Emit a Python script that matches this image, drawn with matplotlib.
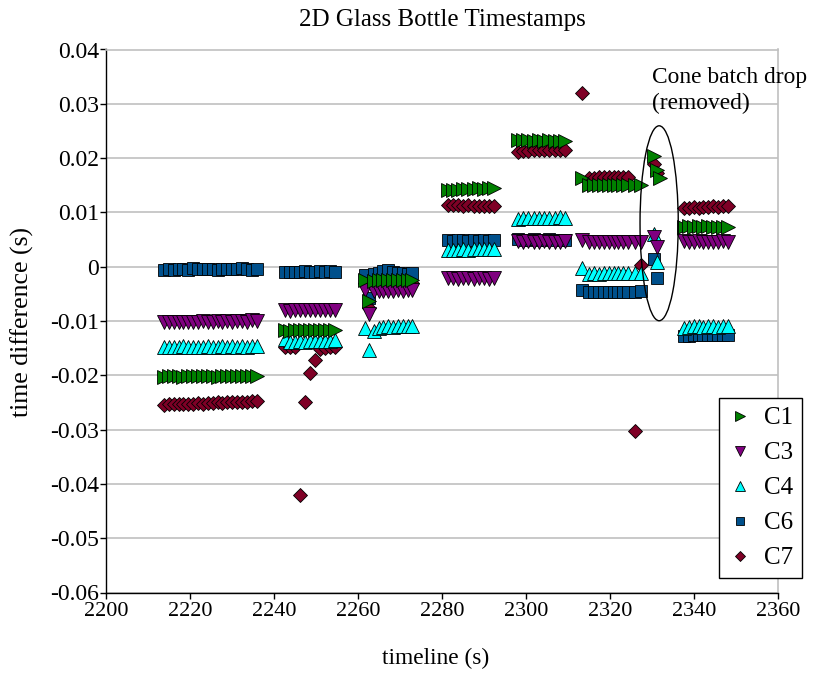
import numpy as np
import matplotlib
matplotlib.use("Agg")
import matplotlib.pyplot as plt
from matplotlib.lines import Line2D
from matplotlib.patches import Ellipse

plt.rcParams['font.family'] = ['Liberation Serif', 'DejaVu Serif']
plt.rcParams['axes.unicode_minus'] = False

nan = np.nan

# Frame timestamps for each batch (s)
batch1_t = [2213.8, 2215.0, 2216.1, 2217.3, 2218.4, 2219.6, 2220.8, 2221.9, 2223.1, 2224.3,
            2225.4, 2226.6, 2227.7, 2228.9, 2230.1, 2231.2, 2232.4, 2233.5, 2234.7, 2235.9]
batch2_t = [2242.6, 2243.8, 2245.0, 2246.2, 2247.4, 2248.6, 2249.8, 2251.0, 2252.2, 2253.4, 2254.6]
batch3_t = [2261.7, 2262.6, 2263.8, 2264.9, 2266.0, 2267.2, 2268.3, 2269.5, 2270.6, 2271.8, 2272.9]
batch4_t = [2281.4, 2282.6, 2283.8, 2285.0, 2286.3, 2287.5, 2288.7, 2289.9, 2291.1, 2292.3]
batch5_t = [2298.0, 2299.3, 2300.5, 2301.8, 2303.0, 2304.3, 2305.5, 2306.8, 2308.0, 2309.3]
batch6_t = [2313.3, 2315.0, 2316.2, 2317.4, 2318.5, 2319.7, 2320.9, 2322.0, 2323.2, 2324.4, 2326.0, 2327.3]
cone_t = [2330.4, 2331.2, 2331.9]
batch7_t = [2337.6, 2338.8, 2339.9, 2341.1, 2342.2, 2343.4, 2344.5, 2345.7, 2346.8, 2348.0]

frame_times = batch1_t + batch2_t + batch3_t + batch4_t + batch5_t + batch6_t + cone_t + batch7_t

# Time difference per camera (s), aligned with frame_times
c1 = ([-0.0203, -0.0202, -0.0201, -0.0202, -0.0203, -0.0202, -0.0201, -0.0202, -0.0202, -0.0201,
       -0.0202, -0.0203, -0.0202, -0.0201, -0.0201, -0.0202, -0.0201, -0.0202, -0.0201, -0.0201]
      + [-0.0117, -0.0118, -0.0117, -0.0116, -0.0117, -0.0117, -0.0116, -0.0117, -0.0116, -0.0117, -0.0116]
      + [-0.0024, -0.0064, -0.0026, -0.0025, -0.0025, -0.0024, -0.0025, -0.0024, -0.0024, -0.0025, -0.0024]
      + [0.0141, 0.0142, 0.0142, 0.0143, 0.0144, 0.0144, 0.0145, 0.0144, 0.0145, 0.0145]
      + [0.0234, 0.0233, 0.0233, 0.0232, 0.0233, 0.0232, 0.0233, 0.0232, 0.0232, 0.0232]
      + [0.0163, 0.0150, 0.0150, 0.0151, 0.0150, 0.0151, 0.0151, 0.0150, 0.0151, 0.0150, 0.0151, 0.0150]
      + [0.0203, 0.0178, 0.0163]
      + [0.0074, 0.0075, 0.0074, 0.0075, 0.0074, 0.0075, 0.0074, 0.0074, 0.0074, 0.0073])

c3 = ([-0.0102, -0.0101, -0.0102, -0.0101, -0.0101, -0.0102, -0.0101, -0.0101, -0.0100, -0.0101,
       -0.0101, -0.0100, -0.0101, -0.0100, -0.0101, -0.0100, -0.0100, -0.0101, -0.0099, -0.0100]
      + [-0.0080, -0.0081, -0.0080, -0.0080, -0.0079, -0.0080, -0.0080, -0.0079, -0.0080, -0.0079, -0.0079]
      + [-0.0042, -0.0088, -0.0045, -0.0044, -0.0045, -0.0044, -0.0044, -0.0043, -0.0044, -0.0043, -0.0043]
      + [-0.0021, -0.0021, -0.0022, -0.0021, -0.0021, -0.0022, -0.0021, -0.0021, -0.0022, -0.0021]
      + [0.0047, 0.0046, 0.0047, 0.0046, 0.0046, 0.0047, 0.0046, 0.0046, 0.0046, 0.0047]
      + [0.0050, 0.0046, 0.0046, 0.0045, 0.0046, 0.0046, 0.0045, 0.0046, 0.0045, 0.0046, 0.0045, 0.0046]
      + [0.0055, 0.0037, nan]
      + [0.0047, 0.0046, 0.0046, 0.0047, 0.0046, 0.0046, 0.0046, 0.0046, 0.0047, 0.0046])

c4 = ([-0.0148, -0.0147, -0.0148, -0.0147, -0.0146, -0.0147, -0.0147, -0.0148, -0.0147, -0.0146,
       -0.0147, -0.0147, -0.0146, -0.0147, -0.0146, -0.0147, -0.0146, -0.0147, -0.0146, -0.0146]
      + [-0.0134, -0.0138, -0.0138, -0.0137, -0.0138, -0.0137, -0.0137, -0.0136, -0.0137, -0.0136, -0.0135]
      + [-0.0113, -0.0153, -0.0119, -0.0112, -0.0111, -0.0110, -0.0111, -0.0110, -0.0110, -0.0109, -0.0110]
      + [0.0030, 0.0031, 0.0030, 0.0032, 0.0031, 0.0032, 0.0032, 0.0033, 0.0032, 0.0033]
      + [0.0088, 0.0089, 0.0089, 0.0090, 0.0089, 0.0090, 0.0090, 0.0090, 0.0091, 0.0090]
      + [-0.0003, -0.0013, -0.0012, -0.0013, -0.0012, -0.0012, -0.0011, -0.0012, -0.0012, -0.0011, -0.0012, -0.0012]
      + [0.0061, 0.0009, nan]
      + [-0.0112, -0.0111, -0.0110, -0.0110, -0.0111, -0.0110, -0.0110, -0.0111, -0.0110, -0.0109])

c6 = ([-0.0006, -0.0005, -0.0006, -0.0005, -0.0004, -0.0006, -0.0003, -0.0005, -0.0004, -0.0005,
       -0.0004, -0.0006, -0.0005, -0.0005, -0.0004, -0.0005, -0.0003, -0.0004, -0.0006, -0.0005]
      + [-0.0010, -0.0009, -0.0010, -0.0009, -0.0008, -0.0009, -0.0009, -0.0008, -0.0009, -0.0008, -0.0009]
      + [-0.0015, -0.0058, -0.0013, -0.0011, -0.0008, -0.0006, -0.0010, -0.0012, -0.0011, -0.0013, -0.0012]
      + [0.0049, 0.0048, 0.0049, 0.0049, 0.0048, 0.0049, 0.0048, 0.0049, 0.0048, 0.0049]
      + [0.0051, 0.0050, 0.0050, 0.0051, 0.0050, 0.0050, 0.0051, 0.0050, 0.0050, 0.0050]
      + [-0.0042, -0.0046, -0.0047, -0.0046, -0.0046, -0.0047, -0.0046, -0.0046, -0.0047, -0.0046, -0.0046, -0.0044]
      + [0.0015, -0.0021, nan]
      + [-0.0127, -0.0127, -0.0126, -0.0126, -0.0125, -0.0126, -0.0126, -0.0125, -0.0126, -0.0126])

c7 = ([-0.0254, -0.0253, -0.0253, -0.0252, -0.0252, -0.0253, -0.0252, -0.0251, -0.0252, -0.0251,
       -0.0251, -0.0250, -0.0251, -0.0250, -0.0250, -0.0249, -0.0249, -0.0249, -0.0248, -0.0248]
      + [-0.0147, -0.0147, -0.0148, -0.0420, -0.0250, -0.0196, -0.0172, -0.0151, -0.0149, -0.0148, -0.0147]
      + [-0.0030, -0.0076, -0.0031, -0.0032, -0.0031, -0.0032, -0.0031, -0.0031, -0.0030, -0.0031, -0.0030]
      + [0.0114, 0.0113, 0.0113, 0.0112, 0.0113, 0.0112, 0.0112, 0.0111, 0.0112, 0.0111]
      + [0.0212, 0.0213, 0.0213, 0.0214, 0.0214, 0.0215, 0.0214, 0.0215, 0.0215, 0.0214]
      + [0.0319, 0.0163, 0.0164, 0.0165, 0.0165, 0.0166, 0.0165, 0.0166, 0.0165, 0.0165, -0.0303, 0.0003]
      + [0.0190, 0.0172, nan]
      + [0.0109, 0.0109, 0.0110, 0.0109, 0.0110, 0.0110, 0.0111, 0.0110, 0.0111, 0.0112])

series_names = ['C1', 'C3', 'C4', 'C6', 'C7']
series_values = [c1, c3, c4, c6, c7]
series_markers = ['>', 'v', '^', 's', 'D']
series_sizes = [10.5, 10.5, 10.5, 9.0, 7.5]
series_colors = ['#008000', '#800080', '#00FFFF', '#00508C', '#7F0026']

x_ticks = [2200, 2220, 2240, 2260, 2280, 2300, 2320, 2340, 2360]
y_ticks = [0.04, 0.03, 0.02, 0.01, 0.0, -0.01, -0.02, -0.03, -0.04, -0.05, -0.06]
y_tick_labels = ['0.04', '0.03', '0.02', '0.01', '0', '-0.01', '-0.02', '-0.03', '-0.04', '-0.05', '-0.06']

W, H = 816, 675
fig = plt.figure(figsize=(W / 100, H / 100), dpi=100)
ax = fig.add_axes([106 / W, 1 - 592.5 / H, (778 - 106) / W, (592.5 - 49.5) / H])

times = np.array(frame_times)
# later cameras are drawn underneath earlier ones
for i, (name, vals, mk, ms, col) in enumerate(zip(series_names, series_values, series_markers,
                                                   series_sizes, series_colors)):
    ax.plot(times, np.array(vals), linestyle='none', marker=mk, markersize=ms,
            markerfacecolor=col, markeredgecolor='black', markeredgewidth=0.6,
            zorder=10 - i)

ax.set_xlim(2200, 2360)
ax.set_ylim(-0.06, 0.04)
ax.set_xticks(x_ticks)
ax.set_xticklabels([str(v) for v in x_ticks])
ax.set_yticks(y_ticks)
ax.set_yticklabels(y_tick_labels)
ax.tick_params(axis='both', direction='out', length=4, width=1, color='black', labelsize=16)
ax.tick_params(axis='y', pad=1, labelsize=17)
ax.tick_params(axis='x', pad=3)
ax.yaxis.grid(True, color='#C0C0C0', linewidth=1.2)
ax.set_axisbelow(True)
for side in ('left', 'bottom'):
    ax.spines[side].set_color('black')
    ax.spines[side].set_linewidth(1.0)
for side in ('top', 'right'):
    ax.spines[side].set_color('#C0C0C0')
    ax.spines[side].set_linewidth(1.2)

# circled group that was left out
ax.add_patch(Ellipse((2331.7, 0.0080), 9.1, 0.0359, fill=False, edgecolor='black',
                     linewidth=1.0, zorder=20))
ax.text(2330.0, 0.0368, 'Cone batch drop\n(removed)', ha='left', va='top', fontsize=16.8,
        linespacing=1.3, clip_on=False, zorder=21)

fig.text(442 / W, 1 - 20 / H, '2D Glass Bottle Timestamps', ha='center', va='center', fontsize=18)
fig.text(436 / W, 1 - 658 / H, 'timeline (s)', ha='center', va='center', fontsize=16.8)
fig.text(22 / W, 1 - 322 / H, 'time difference (s)', ha='center', va='center',
         rotation=90, fontsize=18.5)

handles = [Line2D([], [], linestyle='none', marker=mk, markersize=ms * 0.62,
                  markerfacecolor=col, markeredgecolor='black', markeredgewidth=0.6)
           for mk, ms, col in zip(series_markers, series_sizes, series_colors)]
leg = fig.legend(handles, series_names, loc='upper left', bbox_to_anchor=(719 / W, 1 - 398 / H),
                 fontsize=18, frameon=True, fancybox=False, framealpha=1, edgecolor='black',
                 borderpad=0.35, labelspacing=0.5, handlelength=1.0, handletextpad=0.45,
                 borderaxespad=0)
leg.get_frame().set_linewidth(1.0)

fig.savefig('out.png', dpi=100)
